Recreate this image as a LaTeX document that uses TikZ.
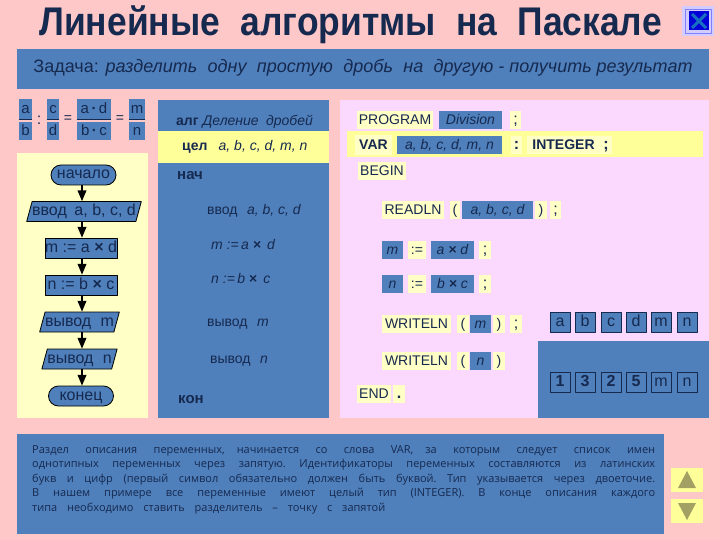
\documentclass[tikz,border=0pt]{standalone}
\usepackage{fontspec}
\setmainfont{Liberation Sans}
\newfontfamily\notefont{Open Sans}
\usepackage{xcolor}
\usetikzlibrary{arrows}
\usetikzlibrary{arrows.meta}
\usetikzlibrary{positioning}
\usetikzlibrary{shapes.geometric}
\usetikzlibrary{shapes.misc}
\definecolor{bgpink}{HTML}{FFC8C8}
\definecolor{barblue}{HTML}{4F80BC}
\definecolor{ink}{HTML}{16294F}
\definecolor{paleyellow}{HTML}{FFFFC6}
\definecolor{stripeyellow}{HTML}{FFFF99}
\definecolor{lilac}{HTML}{FBD9FF}
\definecolor{khaki}{HTML}{A3A063}
\tikzset{
  every node/.style={text=ink,inner sep=0pt,font=\fontsize{14}{16}\selectfont},
  textbox/.style={text height=10pt,text depth=1.5pt},
  bigbox/.style={text height=11.5pt,text depth=3.5pt,font=\fontsize{16}{18}\selectfont},
  bluetag/.style={textbox,fill=barblue,minimum height=18pt,font=\fontsize{14}{16}\selectfont\itshape},
  yellowtag/.style={textbox,fill=paleyellow,minimum height=18pt},
  boldtag/.style={yellowtag,font=\fontsize{14}{16}\selectfont\bfseries},
  punct/.style={yellowtag,font=\fontsize{16}{18}\selectfont},
  fracbox/.style={textbox,fill=barblue,font=\fontsize{15}{17}\selectfont},
  midtext/.style={textbox,anchor=west},
  midbold/.style={midtext,font=\fontsize{15}{17}\selectfont\bfseries},
  terminal/.style={bigbox,rounded rectangle,draw=black,line width=0.8pt,fill=barblue,minimum width=65pt,minimum height=20pt},
  action/.style={bigbox,rectangle,draw=black,line width=0.8pt,fill=barblue,minimum width=72pt,minimum height=20pt},
  inout/.style={bigbox,trapezium,trapezium left angle=70,trapezium right angle=110,trapezium stretches=true,draw=black,line width=0.8pt,fill=barblue,minimum height=20pt},
  cell/.style={bigbox,draw=ink,line width=0.8pt,fill=barblue,minimum width=20pt,minimum height=20pt},
  flow/.style={->,line width=1.5pt,draw=black}
}
\begin{document}
\begin{tikzpicture}[line cap=butt,line join=round,>=triangle 45,x=1pt,y=-1pt]
\useasboundingbox (0,0) rectangle (720,540);
\fill[bgpink] (0,0) rectangle (720,540);
% title
\node (title) at (350.5,25) {\fontsize{40}{44}\selectfont\bfseries\scalebox{0.885}[1]{Линейные\hspace{0.3em} алгоритмы\hspace{0.3em} на\hspace{0.3em} Паскале}};
\fill[fill=lilac!50!blue!35] (682,6) rectangle (714,36);
\draw[blue!50!white,line width=0.8pt] (685,9) rectangle (711,33);
\fill[fill=blue!85!black] (689,11) rectangle (709,30);
\draw[cyan!50!blue,line width=3pt] (692,14) -- (706,28);
\draw[cyan!50!blue,line width=3pt] (706,14) -- (692,28);
% panels
\fill[barblue] (17,49) rectangle (709,89);
\fill[paleyellow] (17,153) rectangle (148,418);
\fill[barblue] (158,100) rectangle (329,418);
\fill[stripeyellow] (158,131) rectangle (329,163);
\fill[lilac] (340,100) rectangle (709,418);
\fill[stripeyellow] (347,131) rectangle (703,157);
\fill[barblue] (538,341) rectangle (709,418);
\fill[barblue] (17,434) rectangle (664,534);
\node (task) at (363,68) {\fontsize{18}{20}\selectfont Задача: \itshape разделить\hspace{0.3em} одну\hspace{0.3em} простую\hspace{0.3em} дробь\hspace{0.3em} на\hspace{0.3em} другую - получить результат};
% fractions
\node[fracbox,minimum width=13pt,minimum height=20pt] (fa) at (25.5,109) {a};
\node[fracbox,minimum width=13pt,minimum height=18pt] (fb) at (25.5,131) {b};
\node[fracbox,minimum width=12pt,minimum height=20pt] (fc) at (53,109) {c};
\node[fracbox,minimum width=12pt,minimum height=18pt] (fd) at (53,131) {d};
\node[fracbox,minimum width=34pt,minimum height=20pt] (fad) at (94,109) {a\,\textbf{·}\,d};
\node[fracbox,minimum width=34pt,minimum height=18pt] (fbc) at (94,131) {b\,\textbf{·}\,c};
\node[fracbox,minimum width=16pt,minimum height=20pt] (fm) at (137,109) {m};
\node[fracbox,minimum width=16pt,minimum height=18pt] (fn) at (137,131) {n};
\draw[ink,line width=1pt] (fa.south west) -- (fa.south east);
\draw[ink,line width=1pt] (fc.south west) -- (fc.south east);
\draw[ink,line width=1pt] (fad.south west) -- (fad.south east);
\draw[ink,line width=1pt] (fm.south west) -- (fm.south east);
\node[font=\fontsize{16}{18}\selectfont] (colon) at (39,120) {:};
\node (eqone) at (68,119) {=};
\node (eqtwo) at (120,119) {=};
% flowchart
\coordinate (trunk) at (82,0);
\node[terminal] (start) at (83.5,175) {начало};
\node[inout,minimum width=88pt] (input) at (84,211.5) {ввод\hspace{0.2em} a, b, c, d};
\node[action] (calcm) at (81,248) {m := a \textbf{×} d};
\node[action] (calcn) at (81,285) {n := b \textbf{×} c};
\node[inout,minimum width=64pt] (outm) at (79.5,322) {вывод\hspace{0.3em} m};
\node[inout,minimum width=64pt] (outn) at (79.5,359) {вывод\hspace{0.3em} n};
\node[terminal] (finish) at (81,396) {конец};
\draw[flow] (start.south -| trunk) -- (input.north -| trunk);
\draw[flow] (input.south -| trunk) -- (calcm.north -| trunk);
\draw[flow] (calcm.south -| trunk) -- (calcn.north -| trunk);
\draw[flow] (calcn.south -| trunk) -- (outm.north -| trunk);
\draw[flow] (outm.south -| trunk) -- (outn.north -| trunk);
\draw[flow] (outn.south -| trunk) -- (finish.north -| trunk);
% school notation
\node[midtext] (alg) at (176,121) {\textbf{алг} \itshape Деление\hspace{0.25em} дробей};
\node[midtext] (cel) at (182,146) {\textbf{цел}\hspace{0.8em}\itshape a, b, c, d, m, n};
\node[midbold] (nach) at (177,175) {нач};
\node[midtext] (rvvod) at (207,210) {ввод\hspace{0.4em} \itshape a, b, c, d};
\node[midtext] (rm) at (211,245) {\itshape m :=\,a \textbf{×}\, d};
\node[midtext] (rn) at (211,279) {\itshape n :=\,b \textbf{×}\, c};
\node[midtext] (rvyvm) at (207,322) {вывод\hspace{0.4em} \itshape m};
\node[midtext] (rvyvn) at (210,359) {вывод\hspace{0.4em} \itshape n};
\node[midbold] (kon) at (178,399) {кон};
% pascal text
\node[yellowtag,minimum width=76pt] (program) at (395,120) {PROGRAM};
\node[bluetag,minimum width=63pt] (division) at (470.5,120) {Division};
\node[punct,minimum width=11pt] (semione) at (515.5,120) {;};
\node[boldtag,minimum width=37pt,minimum height=20pt] (var) at (373.5,145.5) {VAR};
\node[bluetag,minimum width=105pt] (varlist) at (449.5,145) {a, b, c, d, m, n};
\node[punct,minimum width=11pt,font=\fontsize{16}{18}\selectfont\bfseries] (colontwo) at (516.5,145) {:};
\node[boldtag,minimum width=73pt] (integer) at (563.5,145) {INTEGER};
\node[punct,minimum width=12pt,font=\fontsize{16}{18}\selectfont\bfseries] (semitwo) at (606,145) {;};
\node[yellowtag,minimum width=48pt] (begin) at (382,171) {BEGIN};
\node[yellowtag,minimum width=62pt] (readln) at (413,210.5) {READLN};
\node[yellowtag,minimum width=10pt] (readopen) at (455,210.5) {(};
\node[bluetag,minimum width=71pt] (readlist) at (497.5,210.5) {a, b, c, d};
\node[yellowtag,minimum width=12pt] (readclose) at (541,210.5) {)};
\node[punct,minimum width=11pt] (readsemi) at (555.5,210.5) {;};
\node[bluetag,minimum width=21pt] (mvar) at (392.5,250) {m};
\node[yellowtag,minimum width=18pt] (massign) at (417,250) {:=};
\node[bluetag,minimum width=43pt] (mexpr) at (452.5,250) {a \textbf{×} d};
\node[punct,minimum width=12pt] (msemi) at (485,250) {;};
\node[bluetag,minimum width=21pt] (nvar) at (392.5,284) {n};
\node[yellowtag,minimum width=18pt] (nassign) at (417,284) {:=};
\node[bluetag,minimum width=43pt] (nexpr) at (452.5,284) {b \textbf{×} c};
\node[punct,minimum width=12pt] (nsemi) at (485,284) {;};
\node[yellowtag,minimum width=69pt] (writem) at (416.5,324) {WRITELN};
\node[yellowtag,minimum width=12pt] (writemopen) at (463,324) {(};
\node[bluetag,minimum width=21pt] (writemvar) at (480.5,324) {m};
\node[yellowtag,minimum width=12pt] (writemclose) at (499,324) {)};
\node[punct,minimum width=12pt] (writemsemi) at (516,324) {;};
\node[yellowtag,minimum width=69pt] (writen) at (416.5,361) {WRITELN};
\node[yellowtag,minimum width=12pt] (writenopen) at (463,361) {(};
\node[bluetag,minimum width=21pt] (writenvar) at (480.5,361) {n};
\node[yellowtag,minimum width=12pt] (writenclose) at (499,361) {)};
\node[yellowtag,minimum width=34pt] (endword) at (374,394) {END};
\node[punct,minimum width=12pt,font=\fontsize{16}{18}\selectfont\bfseries] (enddot) at (399,394) {.};
% memory cells
\foreach \x/\t in {560/a,585/b,611/c,636/d,661/m,687/n}
  \node[cell] (top\t) at (\x,322.5) {\t};
\foreach \x/\t/\u in {560/1/a,585/3/b,611/2/c,636/5/d}
  \node[cell] (low\u) at (\x,382) {\textbf{\t}};
\foreach \x/\t in {661/m,687/n}
  \node[cell] (low\t) at (\x,382) {\t};
% note
\node[anchor=north west,text width=623pt,align=justify] (note) at (32,445) {\notefont\fontsize{11}{14.5}\selectfont\frenchspacing\spaceskip=0.42em plus 0.6em minus 0.15em Раздел\hspace{0.4em} описания\hspace{0.4em} переменных, начинается\hspace{0.4em} со\hspace{0.4em} слова\hspace{0.4em} VAR, за\hspace{0.4em} которым\hspace{0.4em} следует\hspace{0.4em} список\hspace{0.4em} имен\linebreak однотипных переменных через запятую. Идентификаторы переменных составляются из латинских\linebreak букв и цифр (первый символ обязательно должен быть буквой. Тип указывается через двоеточие.\linebreak В нашем примере все переменные имеют целый тип (INTEGER). В конце описания каждого\linebreak \hbox to 353pt{типа необходимо ставить разделитель – точку с запятой}\par};
% buttons
\node[fill=stripeyellow,minimum width=32pt,minimum height=24pt] (upbtn) at (687,480) {};
\node[fill=stripeyellow,minimum width=32pt,minimum height=24pt] (downbtn) at (687,511) {};
\fill[khaki] (687,471) -- (696,488) -- (678,488) -- cycle;
\fill[khaki] (687,520) -- (696,503) -- (678,503) -- cycle;
\end{tikzpicture}
\end{document}
